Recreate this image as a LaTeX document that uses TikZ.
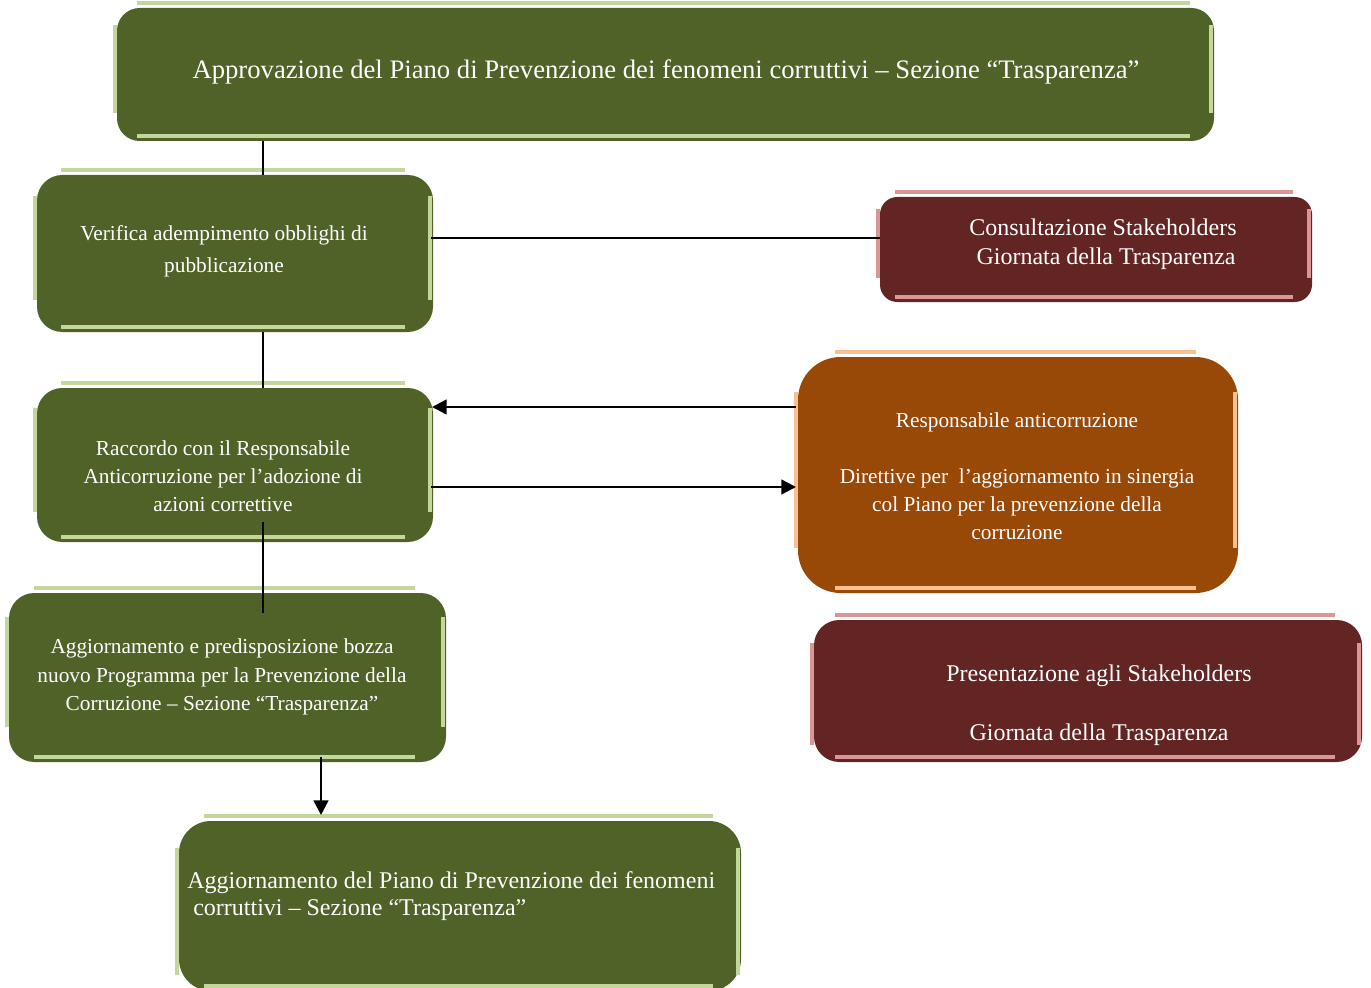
\documentclass[tikz,border=0pt]{standalone}
\usepackage{fontspec}
\setmainfont{Liberation Serif}
\usetikzlibrary{fit,calc,arrows.meta}
\definecolor{boxgreen}{HTML}{4F6228}
\definecolor{linegreen}{HTML}{C3D69B}
\definecolor{boxred}{HTML}{632523}
\definecolor{linered}{HTML}{D99694}
\definecolor{boxorange}{HTML}{984807}
\definecolor{lineorange}{HTML}{FAC090}
\newcommand\decolines[6]{%
  \draw[deco,#2] ($(#1.north west)+(#3,-5)$) -- ($(#1.north east)+(-#4,-5)$);
  \draw[deco,#2] ($(#1.south west)+(#3,-5)$) -- ($(#1.south east)+(-#4,-5)$);
  \draw[deco,#2] ($(#1.north west)+(-2,#5)$) -- ($(#1.south west)+(-2,-#6)$);
  \draw[deco,#2] ($(#1.north east)+(-3,#5)$) -- ($(#1.south east)+(-3,-#6)$);
}
\begin{document}
\begin{tikzpicture}[x=0.75pt,y=-0.75pt,
  box/.style={inner sep=0pt,outer sep=0pt,draw=none},
  greenbox/.style={box,fill=boxgreen},
  redbox/.style={box,fill=boxred},
  orangebox/.style={box,fill=boxorange},
  deco/.style={line width=2.6pt},
  txt/.style={text=white,align=center,inner sep=0pt},
  conn/.style={line width=1.8pt,black},
  arr/.style={conn,-{Triangle[length=11pt,width=11pt]}}]
\useasboundingbox (0,0) rectangle (1371,988);
\clip (0,0) rectangle (1371,988);
% corner coordinates
\coordinate (t1) at (117,8);   \coordinate (t2) at (1214,141);
\coordinate (v1) at (37,175);  \coordinate (v2) at (433,332);
\coordinate (c1) at (880,197); \coordinate (c2) at (1312,302);
\coordinate (r1) at (37,388);  \coordinate (r2) at (433,542);
\coordinate (s1) at (798,357); \coordinate (s2) at (1238,593);
\coordinate (a1) at (9,593);   \coordinate (a2) at (446,762);
\coordinate (p1) at (814,620); \coordinate (p2) at (1362,762);
\coordinate (b1) at (179,821); \coordinate (b2) at (741,991);
% boxes
\node[greenbox,rounded corners=17pt,fit=(t1)(t2)] (topbox) {};
\node[greenbox,rounded corners=19pt,fit=(v1)(v2)] (verif) {};
\node[redbox,rounded corners=13pt,fit=(c1)(c2)] (consult) {};
\node[greenbox,rounded corners=19pt,fit=(r1)(r2)] (racc) {};
\node[orangebox,rounded corners=32pt,fit=(s1)(s2)] (resp) {};
\node[greenbox,rounded corners=19pt,fit=(a1)(a2)] (agg) {};
\node[redbox,rounded corners=19pt,fit=(p1)(p2)] (pres) {};
\node[greenbox,rounded corners=24pt,fit=(b1)(b2)] (bot) {};
% decorative light lines
\decolines{topbox}{linegreen}{20}{24}{17}{28}
\decolines{verif}{linegreen}{24}{28}{21}{32}
\decolines{consult}{linered}{15}{19}{12}{24}
\decolines{racc}{linegreen}{24}{28}{20}{30}
\decolines{resp}{lineorange}{37}{42}{35}{45}
\decolines{agg}{linegreen}{25}{31}{24}{35}
\decolines{pres}{linered}{21}{27}{23}{17}
\decolines{bot}{linegreen}{25}{28}{27}{16}
% texts
\node[txt,font=\fontsize{20}{24}\selectfont] (ttop) at (666,72)
  {Approvazione del Piano di Prevenzione dei fenomeni corruttivi -- Sezione “Trasparenza”};
\node[txt,font=\fontsize{16}{24}\selectfont] (tverif) at (224,251)
  {Verifica adempimento obblighi di\\pubblicazione};
\node[txt,font=\fontsize{18}{21.75}\selectfont] (tconsult) at (1103,244)
  {Consultazione Stakeholders\\\ Giornata della Trasparenza};
\node[txt,font=\fontsize{16}{21}\selectfont] (tracc) at (223,476)
  {Raccordo con il Responsabile\\Anticorruzione per l’adozione di\\azioni correttive};
\node[txt,font=\fontsize{16}{21}\selectfont] (tresp) at (1017,476)
  {Responsabile anticorruzione\\[21pt]Direttive per\ \ l’aggiornamento in sinergia\\col Piano per la prevenzione della\\corruzione};
\node[txt,font=\fontsize{16}{21.4}\selectfont] (tagg) at (222,677)
  {Aggiornamento e predisposizione bozza\\nuovo Programma per la Prevenzione della\\Corruzione -- Sezione “Trasparenza”};
\node[txt,font=\fontsize{18}{22}\selectfont] (tpres) at (1099,705)
  {Presentazione agli Stakeholders\\[22pt]Giornata della Trasparenza};
\node[txt,align=left,anchor=west,font=\fontsize{18}{20.25}\selectfont] (tbot) at (187,896)
  {Aggiornamento del Piano di Prevenzione dei fenomeni\\\ corruttivi -- Sezione “Trasparenza”};
% connector helper coordinates
\coordinate (vx) at (263,0);
\coordinate (ax) at (321,0);
\coordinate (hy) at (0,238);
\coordinate (uy) at (0,407);
\coordinate (dy) at (0,487);
% connectors
\draw[conn] (topbox.south -| vx) -- (verif.north -| vx);
\draw[conn] ($(verif.east |- hy)+(-2,0)$) -- (consult.west |- hy);
\draw[conn] (verif.south -| vx) -- (racc.north -| vx);
\draw[arr] ($(resp.west |- uy)+(-2,0)$) -- ($(racc.east |- uy)+(-1,0)$);
\draw[arr] ($(racc.east |- dy)+(-2,0)$) -- ($(resp.west |- dy)+(-2,0)$);
\draw[conn] ($(racc.south -| vx)+(0,-20)$) -- ($(agg.north -| vx)+(0,20)$);
\draw[arr] ($(agg.south -| ax)+(0,-5)$) -- ($(bot.north -| ax)+(0,-6)$);
\end{tikzpicture}
\end{document}
